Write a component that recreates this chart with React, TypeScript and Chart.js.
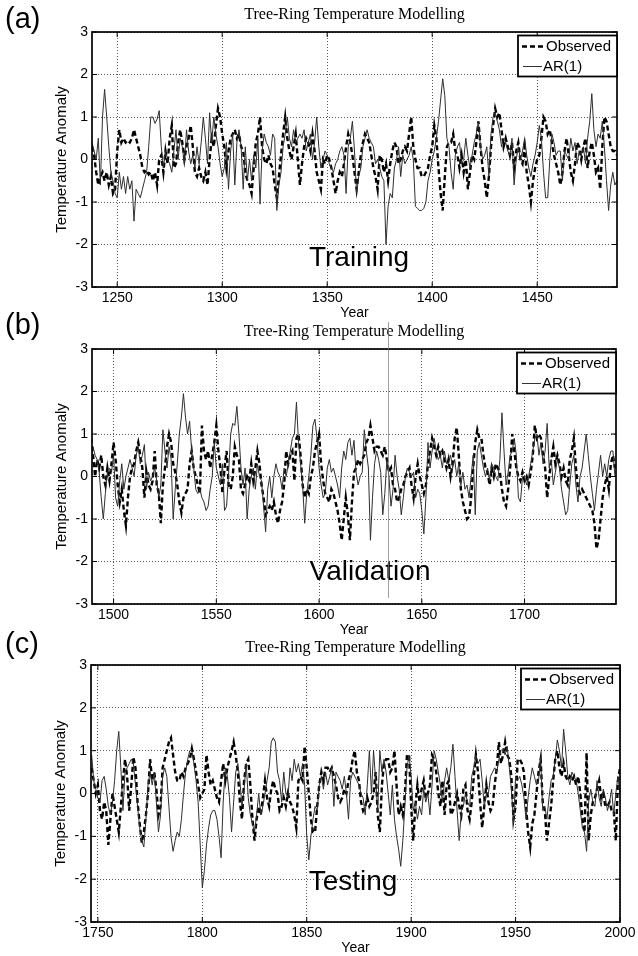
import { useEffect, useRef } from "react";
import { Chart, registerables } from "chart.js";

Chart.register(...registerables);

const SANS = '"Liberation Sans", Arial, Helvetica, sans-serif';
const SERIF = '"Liberation Serif", "Times New Roman", serif';

const chartTitle = "Tree-Ring Temperature Modelling";
const observedName = "Observed";
const arName = "AR(1)";
const xAxisTitle = "Year";
const yAxisTitle = "Temperature Anomaly";

const yTickValues = [-3, -2, -1, 0, 1, 2, 3];
const xTicksA = [1250, 1300, 1350, 1400, 1450];
const xTicksB = [1500, 1550, 1600, 1650, 1700];
const xTicksC = [1750, 1800, 1850, 1900, 1950, 2000];

const startA = 1238;
const startB = 1489;
const startC = 1747;

// Training 1238-1488
const obsA = [
  0.3, 0.1, -0.3, -0.6, -0.4, -0.3, -0.5, -0.3, -0.6, -0.4,
  -0.8, -0.7, 0.2, 0.7, 0.4, 0.5, 0.4, 0.45, 0.4, 0.5,
  0.7, 0.5, 0.3, 0.1, -0.2, -0.3, -0.25, -0.35, -0.3, -0.5,
  -0.3, -0.6, 0.0, 0.1, -0.3, 0.2, -0.1, 0.5, 0.8, -0.2,
  -0.1, 0.4, 0.7, 0.4, 0.0, 0.3, 0.5, 0.8, 0.3, -0.3,
  -0.4, -0.2, -0.4, -0.5, -0.3, -0.6, 0.0, 0.5, 0.3, 0.8,
  1.2, 1.0, 0.6, 0.3, -0.2, 0.2, 0.5, 0.6, 0.7, 0.5,
  0.6, 0.3, 0.2, -0.3, -0.5, -0.6, -0.8, -0.2, 0.4, 0.6,
  1.0, 0.3, 0.0, -0.1, 0.1, -0.1, -0.2, -0.6, -0.9, -0.4,
  0.1, 0.6, 1.0, 0.5, 0.2, 0.0, 0.3, 0.6, 0.0, -0.6,
  -0.1, 0.3, 0.5, 0.4, 0.2, 0.6, 0.2, -0.3, -0.5, -0.7,
  0.0, -0.1, 0.1, 0.0, -0.2, -0.5, -0.8, -0.5, -0.3, -0.4,
  -0.1, 0.3, 0.6, 0.4, 0.1, -0.3, -0.7, -0.3, 0.1, 0.4,
  0.6, 0.5, 0.4, 0.1, -0.2, -0.4, -0.7, 0.1, 0.0, -0.3,
  -0.1, -0.5, -0.1, 0.2, 0.4, 0.3, -0.1, 0.0, 0.2, 0.3,
  0.2, 0.6, 1.0, 0.3, 0.0, -0.2, -0.2, -0.4, -0.4, -0.3,
  -0.2, 0.1, 0.3, 0.8, 0.5, -0.2, -0.8, -1.2, -0.4, 0.3,
  0.4, 0.4, 0.6, 0.2, 0.1, -0.2, 0.1, -0.3, 0.0, -0.7,
  -0.3, 0.1, 0.0, 0.4, 0.9, 0.3, -0.2, -0.5, -0.9, -0.4,
  0.3, 0.8, 1.2, 1.0, 1.1, 0.7, 0.3, 0.5, 0.3, 0.1,
  0.4, -0.2, 0.2, 0.4, 0.0, -0.1, 0.3, -0.3, -0.6, -1.0,
  -0.5, -0.2, 0.0, 0.1, 0.5, 1.0, 0.9, 0.6, 0.7, 0.4,
  0.1, -0.1, -0.3, -0.6, -0.3, 0.2, 0.5, 0.1, -0.3, -0.5,
  -0.1, 0.4, 0.3, 0.0, 0.3, 0.5, -0.2, 0.2, 0.4, 0.1,
  -0.3, -0.2, -0.7, 0.3, 1.0, 0.9, 0.6, 0.3, 0.2, 0.2,
  0.1,
];
const arA = [
  0.4, 0.2, 0.0, 0.5, -0.6, 1.0, 1.65, 1.0, 0.3, -0.3,
  -0.5, -0.8, -0.9, -0.3, -0.7, -0.4, -0.8, -0.4, -0.7, -0.5,
  -1.45, -0.7, -0.8, -0.9, -0.7, -0.5, -0.3, 0.3, 1.0, 1.0,
  0.85, 0.95, 1.15, 0.3, -0.2, 0.2, 0.0, -0.1, -0.3, 0.2,
  0.7, 0.0, 0.5, 0.3, -0.1, 0.7, 0.2, -0.1, 0.1, -0.2,
  0.3, -0.1, 0.4, 1.0, 0.5, -0.1, 1.1, 0.4, 1.0, 0.6,
  0.3, -0.1, -0.4, -0.2, 0.4, -0.7, 0.2, 0.6, -0.6, 0.4,
  0.7, 0.3, -0.7, 0.3, -0.5, 0.0, -0.5, 0.1, -0.2, 0.5,
  -1.05, 0.2, 0.6, 0.4, 0.3, 0.1, 0.6, 0.5, -1.2, -0.6,
  -0.3, 0.3, 0.6, 1.0, 0.5, 0.3, 0.7, 0.4, 0.5, 0.6,
  0.5, 0.7, 0.2, 0.4, 0.6, 0.0, 0.4, 1.0, 0.3, -0.2,
  0.0, 0.2, 0.1, -0.1, -0.2, -0.3, -0.1, 0.0, 0.2, 0.3,
  0.1, -0.8, 0.3, 0.5, 0.9, 0.2, -0.8, -0.4, -0.2, 0.3,
  0.5, 0.7, 0.5, 0.4, 0.3, -0.1, 0.0, -0.2, -0.4, -0.5,
  -2.0, -1.1, -0.8, -0.9, -0.2, 0.0, 0.3, -0.4, 0.1, -0.1,
  0.0, 0.1, 0.3, 0.0, -1.1, -1.15, -1.2, -1.2, -1.15, -1.0,
  -0.5, -0.3, 0.0, 0.2, 0.5, 0.9, 1.4, 1.9, 1.5, 0.5,
  0.3, -0.3, -0.7, 0.1, 0.3, 0.4, -0.1, 0.0, 0.5, 0.1,
  -0.2, 0.1, 0.4, 0.6, 0.9, 0.3, 0.0, 0.1, 0.3, -0.4,
  0.6, 1.0, 1.1, 0.9, 0.7, 0.3, 0.5, 0.4, 0.2, 0.1,
  0.5, -0.6, 0.0, 0.3, 0.0, 0.2, 0.5, 0.1, -0.2, -0.4,
  -0.1, 0.1, 0.4, 0.8, 0.5, -0.3, -0.9, -0.9, 0.0, 0.6,
  0.4, 0.1, 0.2, 0.2, -0.5, 0.2, 0.1, 0.0, 0.5, 0.2,
  0.4, -0.1, 0.2, 0.1, 0.3, -0.1, 0.5, 0.9, 1.55, 0.7,
  0.3, 0.6, 0.5, 0.9, 0.3, -0.5, -1.2, -0.6, -0.3, -0.6,
  -0.5,
];

// Validation 1489-1744
const obsB = [
  0.9, 0.5, 0.0, 0.4, 0.2, 0.5, 0.0, -0.2, 0.2, -0.1,
  0.3, 0.8, 0.4, -0.2, -0.6, -0.3, -0.8, -1.15, -0.5, 0.0,
  0.2, 0.3, 0.6, 0.8, 0.5, 0.2, -0.5, 0.1, -0.2, -0.3,
  -0.1, 0.6, -0.2, -0.4, -1.1, -0.2, 0.2, 0.7, 1.0, 0.8,
  0.3, 0.1, -0.2, -0.6, -0.85, -0.5, -0.4, -0.3, 0.3, 0.6,
  0.2, 0.0, -0.2, -0.4, 1.2, 0.6, 0.4, 0.6, 0.2, 0.5,
  0.8, 1.2, 0.6, 0.2, -0.4, 0.2, 0.6, -0.2, -0.3, 0.0,
  0.7, 0.5, 0.4, -0.3, -0.4, -0.2, 0.0, -0.1, 0.3, -0.1,
  0.2, 0.6, 0.3, -0.2, -0.5, -0.9, -0.8, -0.7, -0.8, -0.6,
  -0.9, -1.1, -0.8, -0.6, -0.2, 0.6, 0.3, 0.5, 0.6, -0.1,
  0.9, 1.0, 0.5, -0.2, -0.5, -0.3, -0.4, 0.0, 0.2, 0.6,
  0.8, 1.0, 0.3, -0.1, -0.4, -0.5, -0.6, -0.3, -0.4, -0.6,
  -0.8, -1.1, -1.5, -1.0, -0.5, -0.9, -1.5, -0.6, 0.1, 0.2,
  0.4, 0.3, 0.4, 0.5, 0.8, 0.9, 1.2, 0.9, 0.6, 0.7,
  0.7, 0.6, 0.5, 0.7, 0.4, 0.1, 0.2, -0.2, -0.3, -0.6,
  -0.5, -0.3, -0.2, 0.0, 0.1, 0.2, -0.2, -0.5, 0.0, 0.3,
  0.0, -0.2, -0.4, -0.2, 0.3, 0.6, 0.9, 0.7, 0.5, 0.7,
  0.5, 0.6, 0.4, 0.2, 0.4, 0.0, 0.3, 0.9, 1.15, 0.5,
  -0.3, -0.6, -0.8, -1.0, -0.95, -0.5, 0.2, 0.8, 1.1, 0.9,
  0.9, 0.5, 0.2, 0.1, -0.2, 0.2, 0.0, 0.3, 0.2, 0.1,
  -0.3, -0.6, -0.7, -0.3, 0.2, 1.0, 0.6, 0.2, 0.0, -0.1,
  0.1, -0.1, 0.0, -0.2, 0.1, 0.5, 1.2, 0.9, 1.0, 0.9,
  0.5, 0.2, -0.5, 0.0, 0.4, 0.7, 0.3, 0.5, 0.3, 0.0,
  0.2, -0.1, -0.2, 0.4, 0.6, 0.9, 0.2, -0.3, -0.4, -0.3,
  -0.4, -0.5, -0.6, -0.7, -0.8, -1.1, -1.7, -1.5, -1.0, -0.5,
  -0.2, 0.0, -0.3, 0.3, 0.5, 0.2,
];
const arB = [
  0.3, 0.7, 0.5, 0.4, 0.1, -0.5, -1.0, -0.4, 0.1, 0.2,
  0.1, 0.5, -0.5, -0.7, -0.1, 0.3, -0.3, 0.0, 0.2, 0.4,
  0.2, 0.0, 0.5, 0.7, 0.3, 0.5, 0.75, -0.3, 0.1, -0.1,
  0.0, 0.2, -0.1, -0.5, -0.2, 1.1, 0.6, 0.2, 0.7, 0.4,
  -1.0, -0.3, 0.3, 1.0, 1.4, 1.95, 1.4, 1.0, 1.3, 0.6,
  0.2, -0.3, -0.4, -0.3, -0.5, -0.6, -0.8, -0.7, -0.3, 0.0,
  0.8, 0.2, 0.0, -0.2, 0.3, -0.8, -0.7, 0.1, 1.0, 1.25,
  1.2, 1.65, 1.0, 0.2, -0.2, 0.2, -1.0, -0.3, 0.0, 0.2,
  -0.3, 0.3, 0.0, -0.1, -0.7, -1.3, -0.3, 0.0, -0.5, 0.0,
  0.3, 0.1, 0.0, -0.3, 0.2, 0.0, 0.3, 0.6, 0.9, 1.0,
  1.75, 0.8, 0.3, -0.2, -1.1, -0.4, 0.0, 0.5, 1.2, 1.35,
  0.9, 0.2, -0.2, -0.5, -0.4, 0.2, 0.4, 0.1, 0.2, 0.0,
  -0.2, -0.5, 0.2, 0.6, 0.4, 0.8, 0.9, 0.5, 0.85, 0.1,
  -0.2, 0.0, 0.1, 1.1, 0.6, 0.2, -1.5, -0.5, 0.3, 0.6,
  0.4, 0.1, -0.9, -0.4, 0.4, 0.0, -0.7, -0.3, 0.5, 0.0,
  -0.3, -0.9, -0.5, 0.0, 0.2, 0.1, 0.0, 0.1, -0.5, -0.3,
  -0.4, -0.8, -1.35, -0.5, 0.8, 0.2, 0.6, 0.9, 0.6, 0.4,
  0.5, 0.2, 0.6, 0.3, 0.3, 0.5, 0.2, 0.4, 0.0, 0.3,
  -0.2, 0.1, -0.3, -0.2, -0.5, 0.0, 0.5, -0.9, 0.6, 0.8,
  0.5, 0.2, 0.0, 0.2, -0.1, 0.3, 0.2, 0.0, -0.1, 0.4,
  1.5, 0.6, -0.2, 0.1, 0.5, 0.6, 0.9, 0.5, -0.5, -0.6,
  0.0, 0.0, -0.2, 0.0, 0.3, 0.6, 0.9, 1.0, 0.5, 0.8,
  0.3, 0.6, 1.25, 0.2, 0.4, -0.2, 0.1, 0.4, 0.2, -0.3,
  -0.6, -0.9, -0.8, -0.2, 0.3, 0.5, -0.2, -0.6, 0.0, 0.2,
  0.6, 1.0, 0.5, 0.0, -0.4, -0.8, -0.3, 0.1, 0.5, 0.0,
  0.3, 0.0, 0.4, 0.6, 0.6, 0.0,
];

// Testing 1747-2000
const obsC = [
  0.6, 0.3, 0.0, 0.2, -0.4, -0.6, -0.2, -0.4, -1.2, -0.6,
  0.0, -0.3, -0.6, -0.9, -0.3, 0.3, 0.8, 0.4, -0.4, 0.2,
  0.85, 0.6, -0.2, -0.7, -1.15, -0.9, -0.5, 0.0, 0.8, 0.3,
  0.5, 0.1, -0.5, -0.3, 0.6, 0.8, 1.0, 1.2, 1.3, 0.9,
  0.5, 0.3, 0.3, 0.5, 0.4, 0.6, 0.7, 0.8, 1.05, 0.8,
  0.5, 0.2, -0.1, 0.0, 0.1, 0.9, 0.5, 0.2, 0.3, 0.1,
  -0.1, -0.2, 0.3, 0.7, 0.3, 0.6, 0.8, 1.0, 1.2, 0.9,
  0.5, -0.2, -0.6, 0.3, 0.7, 0.8, 0.2, -0.6, -1.1, -0.6,
  -0.3, -0.5, -0.1, 0.3, -0.1, -0.3, 0.1, 0.3, 0.1, 0.0,
  -0.4, -0.3, -0.1, -0.3, 0.0, -0.2, -0.3, -0.5, -0.8, 0.3,
  0.4, 0.3, 1.1, 0.6, 0.0, -0.6, -0.9, -0.9, -0.3, 0.2,
  0.5, 0.3, 0.6, 0.6, 0.5, 0.6, 0.4, 0.2, -0.1, -0.2,
  -0.1, 0.1, 0.0, 0.3, 0.5, 0.8, 1.0, 0.5, 0.3, -0.2,
  -0.4, -0.3, -0.1, -0.3, -0.2, 0.0, 0.5, -0.5, -0.9, 0.2,
  0.7, 0.8, 0.8, 0.5, 0.6, 1.0, 0.2, -0.5, -0.3, -0.5,
  0.0, 0.9, 0.9, -0.3, -1.1, -0.3, 0.2, -0.2, 0.1, 0.3,
  -0.1, 0.0, 0.2, 0.9, 0.8, 0.5, 0.0, -0.3, 0.3, -0.5,
  0.2, 0.3, -0.5, -0.4, -0.2, 0.0, -0.3, -0.5, 0.1, 0.2,
  -0.4, -0.6, -0.2, 0.4, 0.9, 0.5, -0.2, -0.8, -0.3, 0.2,
  -0.2, -0.4, -0.3, 0.2, 0.6, 1.2, 0.7, 0.9, 1.2, 0.9,
  0.8, 0.4, -0.6, -0.3, 0.8, 0.8, 0.7, 0.5, -0.3, -0.9,
  -1.25, -0.7, -0.5, 0.0, 0.5, 0.8, -0.2, -0.4, -1.1, -0.7,
  -0.3, 0.3, 0.8, 1.0, 0.6, 0.4, 0.7, 0.4, 0.3, 0.4,
  0.3, 0.4, 0.2, 0.4, 0.0, -0.6, -0.9, 0.95, -1.1, -0.5,
  -0.2, -0.1, 0.1, 0.3, -0.1, 0.0, -0.3, -0.3, -0.2, -0.4,
  -0.4, -1.1, 0.3, 0.6,
];
const arC = [
  0.9, 0.3, 0.1, -0.1, -0.2, 0.3, 0.4, 0.1, -0.3, -0.5,
  -0.2, 0.3, 1.0, 1.45, 0.6, -0.4, 0.5, 0.6, 0.7, 0.8,
  0.7, 0.2, -0.3, -0.8, -1.1, -1.25, -0.6, 0.2, 0.5, 0.2,
  0.5, -0.2, -0.9, -0.5, 0.4, 0.6, 0.4, -0.3, -1.0, -1.35,
  -1.1, -0.9, -1.0, -0.6, 0.0, 0.5, 0.8, 1.0, 1.0, 0.7,
  0.3, -0.2, -1.2, -2.2, -1.8, -1.2, -0.8, -0.5, -0.4, -0.4,
  -0.6, -1.0, -1.5, -0.2, 0.6, 0.4, -0.1, -0.9, -0.2, 0.5,
  0.7, 0.3, -0.3, 0.1, 0.7, -0.1, -0.5, -0.7, -0.9, -0.5,
  0.0, -0.5, -0.3, 0.0, 0.3, 0.6, 1.2, 1.3, 1.2, 0.5,
  0.3, -0.2, 0.5, 0.0, -0.1, 0.6, 0.3, 0.8, 0.5, 0.7,
  0.4, 0.7, 0.2, -1.0, -1.55, -1.0, -0.6, -0.3, -0.4, 0.2,
  0.4, 0.1, 0.5, 0.2, 0.4, 0.6, -0.3, 0.5, 0.4, 0.3,
  0.1, 0.4, 0.0, -0.6, 0.3, 0.5, 0.4, 0.3, 0.2, 0.0,
  -0.1, -0.5, 0.2, 1.0, 0.0, 1.0, 0.3, -0.4, 1.0, 0.5,
  0.8, 0.5, 0.0, -0.5, 0.2, -0.6, -1.0, -1.3, -1.7, -1.1,
  -0.3, 0.6, 0.9, 0.4, -0.4, -0.2, -0.6, -0.3, -0.5, 0.1,
  -0.2, 0.0, -0.5, 0.2, 1.0, 0.8, 0.5, 0.2, -0.2, 0.3,
  0.6, 0.3, 0.6, 1.15, 0.4, -0.4, -1.1, -0.4, -0.3, 0.0,
  -0.2, -0.3, 0.4, 0.6, 0.9, 0.7, 0.8, 0.3, -0.3, 0.0,
  0.0, 0.4, 0.5, 0.6, 0.5, 0.8, 1.0, 1.05, 0.9, 1.1,
  0.6, 0.1, -0.7, 0.4, 0.3, 0.4, 0.2, -0.1, -0.6, -0.1,
  0.3, 0.6, 0.4, 0.2, 0.3, 0.85, -0.4, -0.3, -0.6, -0.1,
  0.3, 0.4, 0.8, 1.25, 1.0, 0.6, 1.5, 1.0, 0.4, 0.2,
  0.5, 0.4, 0.3, 0.0, -0.4, -0.8, -0.9, -1.35, -0.2, 0.1,
  -0.2, -0.3, 0.3, -0.1, -0.3, 0.1, -0.1, -0.4, -0.2, 0.1,
  -0.5, 0.0, 0.4, 0.0,
];

const PAGE_W = 638;
const PAGE_H = 956;
const Y_AXIS_W = 45;
const X_AXIS_H = 35;

type Box = { l: number; r: number; t: number; b: number };
type Panel = {
  label: string;
  phase: string;
  start: number;
  obs: number[];
  ar: number[];
  xTicks: number[];
  xMin: number;
  xMax: number;
  box: Box;
  labelY: number;
  phaseX: number;
  phaseY: number;
  artifactX?: number;
};

const panels: Panel[] = [
  {
    label: "(a)", phase: "Training", start: startA, obs: obsA, ar: arA,
    xTicks: xTicksA, xMin: 1238, xMax: 1488,
    box: { l: 92, r: 617, t: 32, b: 287 }, labelY: 20, phaseX: 359, phaseY: 266,
  },
  {
    label: "(b)", phase: "Validation", start: startB, obs: obsB, ar: arB,
    xTicks: xTicksB, xMin: 1489.5, xMax: 1744.5,
    box: { l: 92, r: 616, t: 349, b: 604 }, labelY: 326, phaseX: 370, phaseY: 580,
    artifactX: 388.5,
  },
  {
    label: "(c)", phase: "Testing", start: startC, obs: obsC, ar: arC,
    xTicks: xTicksC, xMin: 1746.7, xMax: 2000,
    box: { l: 91, r: 620, t: 665, b: 922 }, labelY: 645, phaseX: 353, phaseY: 890,
  },
];

function decorPlugin(p: Panel) {
  return {
    id: "panelDecor",
    afterDraw(chart: any) {
      const { ctx, chartArea: ca, scales } = chart;
      const line = (x1: number, y1: number, x2: number, y2: number) => {
        ctx.beginPath();
        ctx.moveTo(x1, y1);
        ctx.lineTo(x2, y2);
        ctx.stroke();
      };
      ctx.save();
      ctx.setLineDash([]);
      // inward tick marks
      ctx.strokeStyle = "#000";
      ctx.lineWidth = 1;
      const tl = 5;
      for (const v of p.xTicks) {
        const x = scales.x.getPixelForValue(v);
        line(x, ca.bottom, x, ca.bottom - tl);
        line(x, ca.top, x, ca.top + tl);
      }
      for (const v of yTickValues) {
        const y = scales.y.getPixelForValue(v);
        line(ca.left, y, ca.left + tl, y);
        line(ca.right, y, ca.right - tl, y);
      }
      // axes frame
      ctx.lineWidth = 1.7;
      ctx.strokeRect(ca.left, ca.top, ca.right - ca.left, ca.bottom - ca.top);

      // title
      ctx.fillStyle = "#000";
      ctx.font = `16px ${SERIF}`;
      ctx.textAlign = "center";
      ctx.textBaseline = "middle";
      ctx.fillText(chartTitle, (ca.left + ca.right) / 2, ca.top - 17.5);

      // panel label
      ctx.font = `29px ${SANS}`;
      ctx.textAlign = "left";
      ctx.textBaseline = "middle";
      ctx.fillText(p.label, 5, p.labelY);

      // phase text
      ctx.font = `28px ${SANS}`;
      ctx.textAlign = "center";
      ctx.textBaseline = "alphabetic";
      ctx.fillText(p.phase, p.phaseX, p.phaseY);

      // legend
      const bw = 99;
      const bh = 41;
      const bx = ca.right - bw;
      const by = ca.top + 3.5;
      ctx.fillStyle = "#fff";
      ctx.fillRect(bx, by, bw, bh);
      ctx.strokeStyle = "#000";
      ctx.lineWidth = 1.8;
      ctx.strokeRect(bx, by, bw, bh);
      ctx.lineWidth = 2.4;
      ctx.setLineDash([5, 3]);
      line(bx + 4, by + 11, bx + 27, by + 11);
      ctx.setLineDash([]);
      ctx.lineWidth = 1;
      ctx.strokeStyle = "#333";
      line(bx + 5, by + 31, bx + 24, by + 31);
      ctx.fillStyle = "#000";
      ctx.font = `15px ${SANS}`;
      ctx.textAlign = "left";
      ctx.textBaseline = "middle";
      ctx.fillText(observedName, bx + 28, by + 11.5);
      ctx.fillText(arName, bx + 25, by + 31.5);

      // scan artefact line
      if (p.artifactX) {
        ctx.strokeStyle = "rgba(120,120,120,0.7)";
        ctx.lineWidth = 1;
        line(p.artifactX, ca.top - 27, p.artifactX, ca.bottom - 6);
      }
      ctx.restore();
    },
  };
}

function zeroPad(s: any) {
  s.paddingLeft = 0;
  s.paddingRight = 0;
  s.paddingTop = 0;
  s.paddingBottom = 0;
}

function PanelChart({ p }: { p: Panel }) {
  const ref = useRef<HTMLCanvasElement | null>(null);
  useEffect(() => {
    if (!ref.current) return;
    const tickFont = { family: SANS, size: 14 };
    const yTitleFont = { family: SANS, size: 15 };
    const gridOpts = { color: "#5a5a5a", lineWidth: 1, drawTicks: false };
    const borderOpts = { display: false, dash: [1, 2] };
    const chart = new Chart(ref.current, {
      type: "line",
      data: {
        datasets: [
          {
            label: observedName,
            data: p.obs.map((v, i) => ({ x: p.start + i, y: v })),
            borderColor: "#000",
            borderWidth: 2.4,
            borderDash: [5, 3],
            pointRadius: 0,
            tension: 0,
            fill: false,
            order: 1,
          },
          {
            label: arName,
            data: p.ar.map((v, i) => ({ x: p.start + i, y: v })),
            borderColor: "#2e2e2e",
            borderWidth: 1,
            pointRadius: 0,
            tension: 0,
            fill: false,
            order: 0,
          },
        ],
      },
      options: {
        animation: false,
        responsive: false,
        events: [],
        layout: {
          padding: {
            left: p.box.l - Y_AXIS_W,
            right: PAGE_W - p.box.r,
            top: p.box.t,
            bottom: PAGE_H - p.box.b - X_AXIS_H,
          },
        },
        plugins: {
          legend: { display: false },
          tooltip: { enabled: false },
          title: { display: false },
        },
        scales: {
          x: {
            type: "linear",
            min: p.xMin,
            max: p.xMax,
            afterBuildTicks: (s: any) => {
              s.ticks = p.xTicks.map((v) => ({ value: v }));
            },
            afterFit: (s: any) => {
              s.height = X_AXIS_H;
              zeroPad(s);
            },
            ticks: {
              callback: (v: any) => String(v),
              font: tickFont,
              color: "#000",
              padding: 3,
              maxRotation: 0,
              autoSkip: false,
            },
            grid: gridOpts,
            border: borderOpts,
            title: {
              display: true,
              text: xAxisTitle,
              font: tickFont,
              color: "#000",
              padding: { top: 0, bottom: 0 },
            },
          },
          y: {
            type: "linear",
            min: -3,
            max: 3,
            afterBuildTicks: (s: any) => {
              s.ticks = yTickValues.map((v) => ({ value: v }));
            },
            afterFit: (s: any) => {
              s.width = Y_AXIS_W;
              zeroPad(s);
            },
            ticks: {
              callback: (v: any) => String(v),
              font: tickFont,
              color: "#000",
              padding: 4,
            },
            grid: gridOpts,
            border: borderOpts,
            title: {
              display: true,
              text: yAxisTitle,
              font: yTitleFont,
              color: "#000",
              padding: { top: 6, bottom: 0 },
            },
          },
        },
      } as any,
      plugins: [decorPlugin(p)],
    });
    return () => chart.destroy();
  }, [p]);
  return (
    <canvas
      ref={ref}
      width={PAGE_W}
      height={PAGE_H}
      style={{ position: "absolute", left: 0, top: 0, width: PAGE_W, height: PAGE_H }}
    />
  );
}

export default function App() {
  return (
    <div
      style={{
        position: "absolute",
        left: 0,
        top: 0,
        width: PAGE_W,
        height: PAGE_H,
        background: "#fff",
        overflow: "hidden",
      }}
    >
      {panels.map((p) => (
        <PanelChart key={p.label} p={p} />
      ))}
    </div>
  );
}
